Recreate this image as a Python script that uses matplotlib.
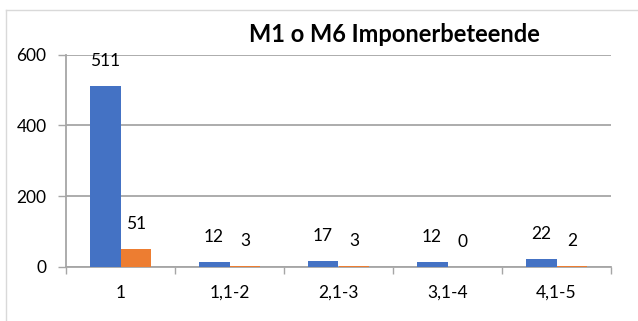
import matplotlib
matplotlib.use("Agg")
import matplotlib.pyplot as plt
from matplotlib.lines import Line2D

categories = ["1", "1,1-2", "2,1-3", "3,1-4", "4,1-5"]
blue_values = [511, 12, 17, 12, 22]
orange_values = [51, 3, 3, 0, 2]
title = "M1 o M6 Imponerbeteende"

BLUE = "#4472C4"
ORANGE = "#ED7D31"
GRID = "#A6A6A6"

plt.rcParams["font.family"] = ["Lato", "DejaVu Sans"]

fig = plt.figure(figsize=(6.38, 3.21), dpi=100)
ax = fig.add_axes([66 / 638, 1 - 266.7 / 321, (611 - 66) / 638, (266.7 - 54.7) / 321])

# chart frame (light gray border, only left and top visible)
fig.add_artist(Line2D([6 / 638, 6 / 638], [0, 1 - 10 / 321], transform=fig.transFigure,
                      color="#D9D9D9", lw=1))
fig.add_artist(Line2D([6 / 638, 1], [1 - 10 / 321, 1 - 10 / 321], transform=fig.transFigure,
                      color="#D9D9D9", lw=1))

width = 0.284
xs = list(range(len(categories)))
ax.bar([x - width / 2 for x in xs], blue_values, width, color=BLUE, zorder=3)
ax.bar([x + width / 2 for x in xs], orange_values, width, color=ORANGE, zorder=3)

# value labels above each bar
for x, v in zip(xs, blue_values):
    ax.annotate(str(v), (x - width / 2, v), xytext=(0, 18), textcoords="offset points",
                ha="center", va="center", fontsize=12.5, color="#000000")
for x, v in zip(xs, orange_values):
    ax.annotate(str(v), (x + width / 2, v), xytext=(0, 18), textcoords="offset points",
                ha="center", va="center", fontsize=12.5, color="#000000")

ax.set_xlim(-0.5, len(categories) - 0.5)
ax.set_ylim(0, 600)
ax.set_yticks([0, 200, 400, 600])
ax.yaxis.grid(True, color=GRID, lw=1.3, zorder=0)
ax.set_axisbelow(True)

# boundary ticks between categories, labels centred on categories
ax.set_xticks([x - 0.5 for x in range(len(categories) + 1)])
ax.set_xticklabels([])
ax.set_xticks(xs, minor=True)
ax.set_xticklabels(categories, minor=True)
ax.tick_params(axis="x", which="major", length=5, color=GRID, width=1)
ax.tick_params(axis="x", which="minor", length=0, pad=13, labelsize=12.5)
ax.tick_params(axis="y", length=6, color=GRID, width=1, pad=8, labelsize=12.5)

for side in ["top", "right"]:
    ax.spines[side].set_visible(False)
for side in ["left", "bottom"]:
    ax.spines[side].set_color(GRID)
    ax.spines[side].set_linewidth(1.3)

fig.text(394 / 638, 1 - 35 / 321, title, ha="center", va="center",
         fontsize=17, fontweight="bold")

fig.savefig("out.png", dpi=100)
